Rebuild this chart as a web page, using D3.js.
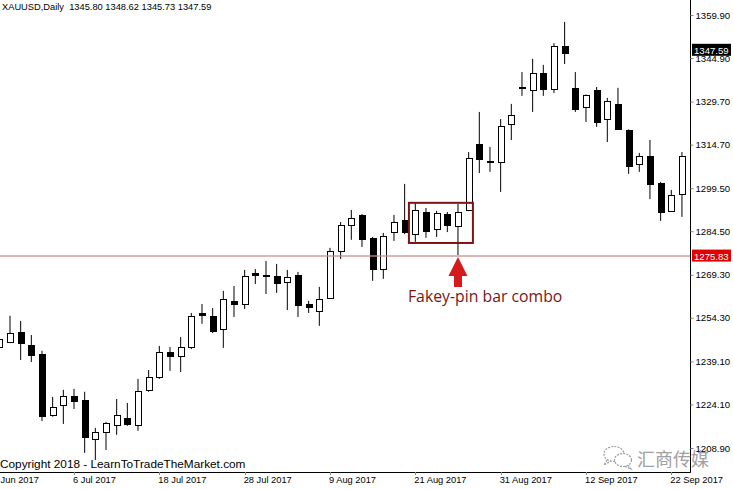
<!DOCTYPE html>
<html>
<head>
<meta charset="utf-8">
<script src="https://cdn.jsdelivr.net/npm/d3@7"></script>
<style>
  html, body { margin: 0; padding: 0; background: #fff; }
  svg { display: block; }
</style>
</head>
<body>
<div id="chart"></div>
<script>
// ---------------- data ----------------
const symbolTitle = "XAUUSD,Daily";
const headerValues = ["1345.80", "1348.62", "1345.73", "1347.59"];

const dates = ["27 Jun","28 Jun","29 Jun","30 Jun","3 Jul","4 Jul","5 Jul","6 Jul","7 Jul","10 Jul",
  "11 Jul","12 Jul","13 Jul","14 Jul","17 Jul","18 Jul","19 Jul","20 Jul","21 Jul","24 Jul",
  "25 Jul","26 Jul","27 Jul","28 Jul","31 Jul","1 Aug","2 Aug","3 Aug","4 Aug","7 Aug",
  "8 Aug","9 Aug","10 Aug","11 Aug","14 Aug","15 Aug","16 Aug","17 Aug","18 Aug","21 Aug",
  "22 Aug","23 Aug","24 Aug","25 Aug","28 Aug","29 Aug","30 Aug","31 Aug","1 Sep","4 Sep",
  "5 Sep","6 Sep","7 Sep","8 Sep","11 Sep","12 Sep","13 Sep","14 Sep","15 Sep","18 Sep",
  "19 Sep","20 Sep","21 Sep","22 Sep","25 Sep"];

const opens = [1244.1,1245.9,1249.4,1244.8,1241.7,1220.4,1223.9,1227.1,1225.7,1212.1,
  1214.5,1216.9,1219.4,1216.9,1229.2,1233.7,1242.4,1241.0,1244.1,1256.0,
  1255.0,1250.4,1260.2,1259.1,1269.9,1269.2,1268.9,1266.8,1269.2,1259.1,
  1256.7,1261.2,1277.6,1286.7,1290.2,1282.2,1271.3,1284.2,1288.4,1283.5,
  1291.2,1285.3,1290.5,1286.3,1291.9,1314.9,1309.0,1308.7,1321.9,1334.7,
  1333.8,1339.7,1334.1,1349.1,1334.5,1327.8,1333.8,1323.6,1328.9,1319.8,
  1308.0,1310.7,1301.3,1291.6,1297.5];
const highs = [1248.3,1255.0,1253.2,1248.3,1242.8,1226.7,1229.2,1229.5,1228.5,1215.9,
  1218.0,1226.0,1224.6,1233.0,1236.1,1244.5,1244.1,1247.6,1256.0,1259.1,
  1257.7,1263.7,1265.4,1271.0,1271.3,1274.1,1273.1,1271.0,1270.3,1260.2,
  1265.1,1278.7,1287.7,1291.9,1290.5,1282.5,1283.9,1290.2,1301.0,1294.4,
  1292.6,1291.6,1291.2,1294.0,1312.1,1326.1,1313.9,1323.6,1328.9,1340.0,
  1344.6,1342.5,1350.1,1357.5,1340.0,1332.2,1334.8,1331.0,1334.5,1320.0,
  1311.8,1316.3,1301.7,1298.9,1312.1];
const lows = [1243.1,1245.5,1239.6,1238.9,1218.3,1219.8,1217.3,1222.5,1207.2,1204.7,
  1208.2,1213.5,1216.6,1214.9,1228.5,1233.0,1235.8,1235.4,1243.4,1252.2,
  1249.0,1243.8,1254.6,1257.4,1266.1,1262.6,1263.0,1257.0,1254.6,1256.0,
  1251.5,1260.9,1274.8,1281.5,1279.0,1267.2,1267.9,1281.1,1283.5,1280.8,
  1282.2,1282.5,1284.2,1276.2,1291.5,1304.8,1305.2,1298.2,1316.3,1331.7,
  1326.1,1331.7,1332.7,1342.8,1326.1,1322.6,1320.9,1315.6,1320.0,1304.5,
  1305.2,1295.7,1288.1,1291.2,1289.5];
const closes = [1246.9,1249.0,1245.5,1241.4,1220.1,1223.2,1227.1,1225.3,1212.8,1214.5,
  1217.6,1220.4,1217.3,1228.8,1233.7,1242.4,1241.0,1244.1,1255.0,1255.3,
  1249.7,1260.9,1259.1,1268.9,1269.2,1268.9,1266.5,1268.6,1258.8,1258.1,
  1260.9,1277.6,1286.7,1289.1,1281.8,1271.3,1282.8,1287.7,1284.2,1291.9,
  1284.6,1290.9,1286.7,1291.2,1310.0,1309.7,1308.7,1321.2,1325.0,1334.6,
  1339.7,1334.1,1349.1,1346.7,1327.1,1332.0,1322.6,1329.9,1320.2,1307.3,
  1310.7,1301.0,1291.2,1297.1,1310.7];

const yTickValues = [1359.90, 1344.90, 1329.70, 1314.70, 1299.50, 1284.50, 1269.30, 1254.30, 1239.10, 1224.10, 1208.90];
const xTickLabels = ["26 Jun 2017","6 Jul 2017","18 Jul 2017","28 Jul 2017","9 Aug 2017","21 Aug 2017","31 Aug 2017","12 Sep 2017","22 Sep 2017"];

const currentPrice = 1347.59;
const levelPrice = 1275.83;
// annotation box: bar index span and price span
const boxBars = [38.4, 44.4];
const boxPrices = [1280.4, 1294.4];
const pinBarIndex = 43;
const annotationText = "Fakey-pin bar combo";
const copyrightText = "Copyright 2018 - LearnToTradeTheMarket.com";
const watermarkText = "汇商传媒";

// ---------------- layout ----------------
const W = 733, H = 489;
const plotRight = 690, plotBottom = 472;

const svg = d3.select("#chart").append("svg")
  .attr("width", W).attr("height", H)
  .style("font-family", "'Liberation Sans', Arial, sans-serif");

const x = d3.scaleLinear().domain([7, 63]).range([74, 671.3]);
const y = d3.scaleLinear().domain([1208.9, 1359.9]).range([448, 15]);

const candles = dates.map((d, i) => ({ d, i, o: opens[i], h: highs[i], l: lows[i], c: closes[i] }));

const plot = svg.append("g");
const clipId = "plotclip";
svg.append("clipPath").attr("id", clipId).append("rect")
  .attr("x", 0).attr("y", 0).attr("width", plotRight).attr("height", plotBottom);
plot.attr("clip-path", `url(#${clipId})`);

// wicks
plot.selectAll("line.wick").data(candles).join("line")
  .attr("class", "wick")
  .attr("x1", d => x(d.i)).attr("x2", d => x(d.i))
  .attr("y1", d => y(d.h)).attr("y2", d => y(d.l))
  .attr("stroke", "#000").attr("stroke-width", 1);

// bodies
plot.selectAll("rect.body").data(candles).join("rect")
  .attr("class", "body")
  .attr("x", d => Math.round(x(d.i)) - 2.5)
  .attr("width", 6)
  .attr("y", d => Math.round(y(Math.max(d.o, d.c))) + 0.5)
  .attr("height", d => Math.max(1, Math.round(y(Math.min(d.o, d.c))) - Math.round(y(Math.max(d.o, d.c)))))
  .attr("fill", d => d.c >= d.o ? "#fff" : "#000")
  .attr("stroke", "#000").attr("stroke-width", 1);

// horizontal level line
plot.append("line")
  .attr("x1", 0).attr("x2", plotRight)
  .attr("y1", y(levelPrice)).attr("y2", y(levelPrice))
  .attr("stroke", "#c48c8c").attr("stroke-opacity", 0.85).attr("stroke-width", 1.5);

// annotation box
plot.append("rect")
  .attr("x", x(boxBars[0])).attr("y", y(boxPrices[1]))
  .attr("width", x(boxBars[1]) - x(boxBars[0]))
  .attr("height", y(boxPrices[0]) - y(boxPrices[1]))
  .attr("fill", "none").attr("stroke", "#7d1414").attr("stroke-width", 2);

// arrow
{
  const cx = x(pinBarIndex);
  const tip = y(levelPrice) + 1;
  const headBase = tip + 19, bottom = tip + 30, hw = 9.5, sw = 4;
  plot.append("path")
    .attr("d", `M${cx},${tip} L${cx + hw},${headBase} L${cx + sw},${headBase} L${cx + sw},${bottom} L${cx - sw},${bottom} L${cx - sw},${headBase} L${cx - hw},${headBase} Z`)
    .attr("fill", "#d41a1a");
  svg.append("text")
    .attr("x", cx - 50).attr("y", bottom + 15)
    .attr("font-family", "'Open Sans', 'Noto Sans', sans-serif")
    .attr("font-size", 15.8)
    .attr("fill", "#7d1414")
    .text(annotationText);
}

// axes lines
svg.append("line").attr("x1", plotRight + 0.5).attr("x2", plotRight + 0.5).attr("y1", 0).attr("y2", plotBottom + 0.5)
  .attr("stroke", "#000").attr("stroke-width", 1);
svg.append("line").attr("x1", 0).attr("x2", plotRight + 0.5).attr("y1", plotBottom + 0.5).attr("y2", plotBottom + 0.5)
  .attr("stroke", "#000").attr("stroke-width", 1);

// right axis
const yAxis = d3.axisRight(y).tickValues(yTickValues).tickFormat(d => d.toFixed(2)).tickSize(3).tickPadding(2);
const yg = svg.append("g").attr("transform", `translate(${plotRight + 0.5},0)`).call(yAxis);
yg.select(".domain").remove();
yg.selectAll("text").attr("font-size", 9.6).attr("font-family", "'Liberation Sans', Arial, sans-serif").attr("fill", "#000");
yg.selectAll("line").attr("stroke", "#888");

// bottom axis
const xTickIdx = xTickLabels.map((lab, k) => {
  const short = lab.replace(" 2017", "");
  const idx = dates.indexOf(short);
  return idx >= 0 ? idx : dates.indexOf(xTickLabels[k + 1].replace(" 2017", "")) - 8;
});
const xg = svg.append("g");
xg.selectAll("line").data(xTickIdx).join("line")
  .attr("x1", d => Math.round(x(d)) + 0.5).attr("x2", d => Math.round(x(d)) + 0.5)
  .attr("y1", plotBottom).attr("y2", plotBottom + 3)
  .attr("stroke", "#888");
xg.selectAll("text").data(xTickLabels).join("text")
  .attr("x", (d, k) => x(xTickIdx[k]) - 1).attr("y", 483)
  .attr("font-size", 9.3).attr("fill", "#000")
  .text(d => d);

// price labels
function priceLabel(v, bg) {
  const g = svg.append("g");
  g.append("rect").attr("x", plotRight + 2).attr("y", y(v) - 6.5).attr("width", 39).attr("height", 12).attr("fill", bg);
  g.append("text").attr("x", plotRight + 4).attr("y", y(v) + 3.5)
    .attr("font-size", 9.6).attr("fill", "#fff").text(v.toFixed(2));
}
priceLabel(currentPrice, "#000");
priceLabel(levelPrice, "#e00000");

// header
svg.append("text").attr("x", 2).attr("y", 10).attr("font-size", 9.3).attr("fill", "#000")
  .attr("xml:space", "preserve")
  .text(symbolTitle + "  " + headerValues.join(" "));

// copyright
svg.append("text").attr("x", 0).attr("y", 468).attr("font-size", 11.8).attr("fill", "#000")
  .text(copyrightText);

// watermark
{
  const wm = svg.append("g").attr("fill", "none").attr("stroke", "#9a9a9a").attr("stroke-width", 1.2).attr("stroke-dasharray", "2,1.2");
  wm.append("ellipse").attr("cx", 614).attr("cy", 454).attr("rx", 10).attr("ry", 7.5);
  wm.append("path").attr("d", "M607,460 L604,465 L611,461");
  wm.append("ellipse").attr("cx", 623).attr("cy", 460).attr("rx", 8.5).attr("ry", 6.5).attr("fill", "#fff");
  wm.append("path").attr("d", "M628,465 L631,469 L624,466");
  svg.append("text").attr("x", 637).attr("y", 466)
    .attr("font-family", "'Noto Sans CJK SC', sans-serif").attr("font-size", 18)
    .attr("fill", "#a0a0a0").text(watermarkText);
}
</script>
</body>
</html>
